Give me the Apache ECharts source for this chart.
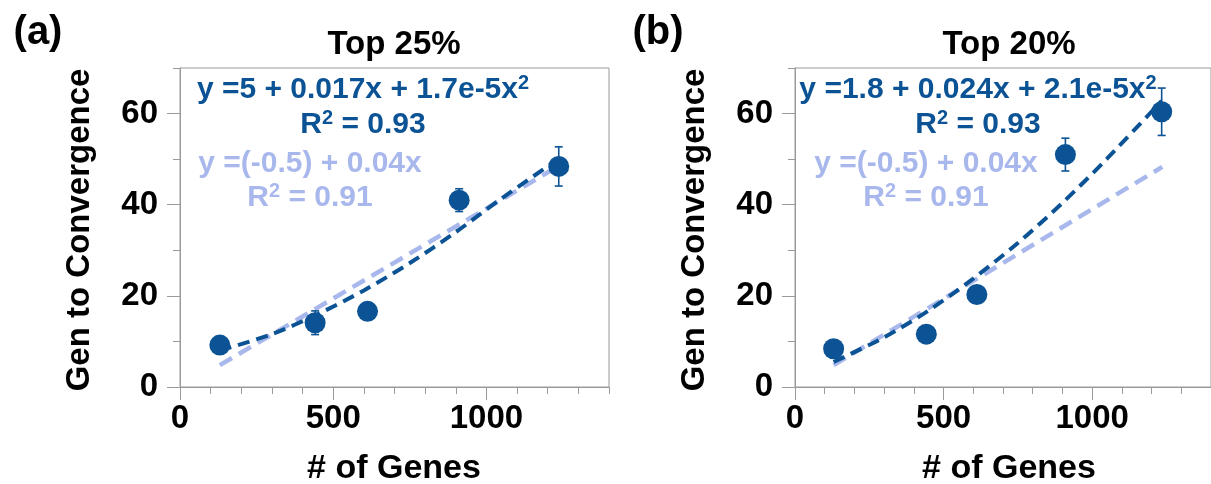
<!DOCTYPE html>
<html>
<head>
<meta charset="utf-8">
<script src="https://cdn.jsdelivr.net/npm/echarts@6/dist/echarts.min.js"></script>
<style>
html,body{margin:0;padding:0;background:#fff;}
#chart{width:1211px;height:484px;}
</style>
</head>
<body>
<div id="chart"></div>
<script>
// ---- data ----
const genesA = [130, 441, 612, 911, 1236];
const genA   = [9.2, 14.1, 16.6, 41.0, 48.4];
const errA   = [1.0, 2.6, 1.0, 2.5, 4.3];
const genesB = [130, 442, 612, 910, 1234];
const genB   = [8.4, 11.6, 20.3, 51.0, 60.4];
const errB   = [1.0, 1.0, 1.0, 3.6, 5.2];

// fitted curves
const quadXA = [130, 300, 450, 600, 750, 900, 1050, 1230];
const quadYA = [8.0, 11.6, 16.0, 21.2, 27.2, 34.0, 41.4, 49.8];
const linXA  = [130, 1236];
const linYA  = [4.8, 48.5];
const quadXB = [130, 300, 450, 600, 750, 900, 1050, 1234];
const quadYB = [5.5, 10.9, 16.8, 23.8, 31.6, 40.4, 50.1, 62.8];
const linXB  = [130, 1236];
const linYB  = [4.8, 48.3];

const panelTitles = ['Top 25%', 'Top 20%'];
const panelTags = ['(a)', '(b)'];
const xName = '# of Genes';
const yName = 'Gen to Convergence';
const eqQuad = [['y =5 + 0.017x + 1.7e-5x', '2'], ['y =1.8 + 0.024x + 2.1e-5x', '2']];
const eqQuadR2 = ['0.93', '0.93'];
const eqLin = ['y =(-0.5) + 0.04x', 'y =(-0.5) + 0.04x'];
const eqLinR2 = ['0.91', '0.91'];

// ---- styling ----
const DARK = '#0b5394';
const LIGHT = '#a9b8ec';
const AX = '#9a9a9a';
const FONT = 'Liberation Sans, Arial, sans-serif';

const zip = (xs, ys) => xs.map((x, i) => [x, ys[i]]);
const zip3 = (xs, ys, es) => xs.map((x, i) => [x, ys[i], es[i]]);

const grids = [
  {left: 180, top: 68, width: 429, height: 319},
  {left: 795, top: 68, width: 429, height: 319}
];

const tickFont = {fontSize:33, fontWeight:'bold', fontFamily:FONT, color:'#000'};

function axesFor(g) {
  const xs = [
    {type:'value', gridIndex:g, min:0, max:1400, interval:500, position:'bottom',
     axisLine:{show:true, onZero:false, lineStyle:{color:AX, width:1}},
     axisTick:{show:true, length:13, lineStyle:{color:AX}},
     axisLabel:Object.assign({margin:15, showMaxLabel:false, formatter:v => String(v)}, tickFont),
     splitLine:{show:false}},
    {type:'value', gridIndex:g, min:0, max:1400, interval:100, position:'bottom',
     axisLine:{show:false}, axisTick:{show:true, length:7, lineStyle:{color:AX}},
     axisLabel:{show:false}, splitLine:{show:false}}
  ];
  const ys = [
    {type:'value', gridIndex:g, min:0, max:70, interval:20, position:'left',
     axisLine:{show:true, onZero:false, lineStyle:{color:AX, width:1}},
     axisTick:{show:true, length:13, lineStyle:{color:AX}},
     axisLabel:Object.assign({margin:22, showMaxLabel:false, formatter:v => String(v)}, tickFont),
     splitLine:{show:false}},
    {type:'value', gridIndex:g, min:0, max:70, interval:10, position:'left',
     axisLine:{show:false}, axisTick:{show:true, length:7, lineStyle:{color:AX}},
     axisLabel:{show:false}, splitLine:{show:false}}
  ];
  return {xs, ys};
}
const a0 = axesFor(0), a1 = axesFor(1);

function errorSeries(ax, data) {
  return {
    type:'custom', xAxisIndex:ax, yAxisIndex:ax, z:3,
    data: data,
    renderItem: function(params, api) {
      const x = api.value(0), y = api.value(1), e = api.value(2);
      const top = api.coord([x, y + e]);
      const bot = api.coord([x, y - e]);
      const w = 4;
      const st = {stroke: DARK, lineWidth: 1.6};
      return {type:'group', children:[
        {type:'line', shape:{x1:top[0], y1:top[1], x2:bot[0], y2:bot[1]}, style:st},
        {type:'line', shape:{x1:top[0]-w, y1:top[1], x2:top[0]+w, y2:top[1]}, style:st},
        {type:'line', shape:{x1:bot[0]-w, y1:bot[1], x2:bot[0]+w, y2:bot[1]}, style:st}
      ]};
    }
  };
}

function panelSeries(ax, qx, qy, lx, ly, gx, gy, ge) {
  return [
    {type:'line', xAxisIndex:ax, yAxisIndex:ax, data:zip(lx, ly), showSymbol:false, symbol:'none', z:1,
     lineStyle:{color:LIGHT, width:4.5, type:[14,8]}},
    {type:'line', xAxisIndex:ax, yAxisIndex:ax, data:zip(qx, qy), showSymbol:false, symbol:'none', smooth:0.3, z:2,
     lineStyle:{color:DARK, width:4, type:[12,7]}},
    errorSeries(ax, zip3(gx, gy, ge)),
    {type:'scatter', xAxisIndex:ax, yAxisIndex:ax, data:zip(gx, gy), symbol:'circle', symbolSize:21, z:4,
     itemStyle:{color:DARK, opacity:1}}
  ];
}

const series = [].concat(
  panelSeries(0, quadXA, quadYA, linXA, linYA, genesA, genA, errA),
  panelSeries(2, quadXB, quadYB, linXB, linYB, genesB, genB, errB)
);

function txt(x, y, text, opts) {
  return {type:'text', x:x, y:y, z:100, style:Object.assign({
    text:text, fontFamily:FONT, fontWeight:'bold', fill:'#000',
    textAlign:'center', textVerticalAlign:'middle'
  }, opts || {})};
}

function richStyles(color, size) {
  return {
    m:{fontFamily:FONT, fontWeight:'bold', fontSize:size, fill:color, color:color, lineHeight:size+4},
    s:{fontFamily:FONT, fontWeight:'bold', fontSize:Math.round(size*0.66), fill:color, color:color, verticalAlign:'top', lineHeight:Math.round(size*0.66)}
  };
}
function richEq(x, y, main, sup, color, size) {
  return {type:'text', x:x, y:y, z:100, style:{
    text:'{m|' + main + '}{s|' + sup + '}',
    textAlign:'center', textVerticalAlign:'middle', rich:richStyles(color, size)
  }};
}
function richR2(x, y, val, color, size) {
  return {type:'text', x:x, y:y, z:100, style:{
    text:'{m|R}{s|2}{m| = ' + val + '}',
    textAlign:'center', textVerticalAlign:'middle', rich:richStyles(color, size)
  }};
}

const graphics = [];
const dx = 615;
for (let p = 0; p < 2; p++) {
  const o = p * dx;
  graphics.push(txt(p ? 658 : 38, 33, panelTags[p], {fontSize:40}));
  graphics.push(txt(394 + o, 45, panelTitles[p], {fontSize:33}));
  graphics.push(Object.assign(txt(80 + o, 230, yName, {fontSize:33}), {rotation:Math.PI/2}));
  graphics.push(txt(394 + o, 469, xName, {fontSize:34}));
  const qc = p ? 978 : 363;
  const lc = p ? 926 : 310;
  graphics.push(richEq(qc, 90, eqQuad[p][0], eqQuad[p][1], DARK, 30));
  graphics.push(richR2(qc, 125, eqQuadR2[p], DARK, 30));
  graphics.push(txt(lc, 164, eqLin[p], {fontSize:30, fill:LIGHT}));
  graphics.push(richR2(lc, 198, eqLinR2[p], LIGHT, 30));
}

const chart = echarts.init(document.getElementById('chart'), null, {renderer:'canvas'});
chart.setOption({
  animation:false,
  backgroundColor:'#fff',
  grid: grids.map(g => Object.assign({show:true, borderColor:AX, borderWidth:1, backgroundColor:'transparent', containLabel:false}, g)),
  xAxis: a0.xs.concat(a1.xs),
  yAxis: a0.ys.concat(a1.ys),
  series: series,
  graphic: graphics
});
</script>
</body>
</html>
